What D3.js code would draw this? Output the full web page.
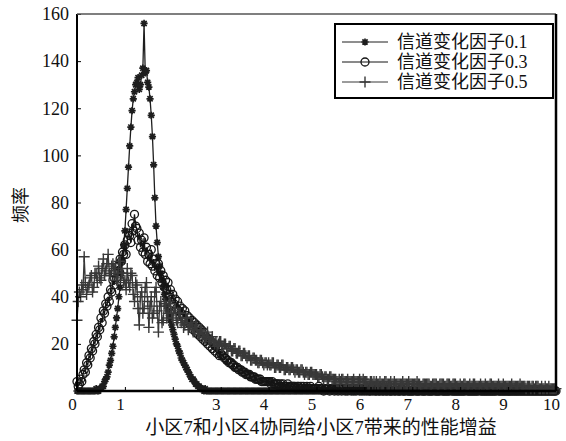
<!DOCTYPE html>
<html><head><meta charset="utf-8">
<script src="https://cdn.jsdelivr.net/npm/d3@7"></script>
<style>body{margin:0;background:#fff}</style>
</head><body>
<svg id="chart" width="566" height="441"></svg>
<script>
// ---------- data ----------
const binWidth = 0.025;          // histogram bin spacing on the gain axis
const xTickValues = [0,1,2,3,4,5,6,7,8,9,10];
const xTickLabels = ["0","1","","3","4","5","6","7","8","9","10"];
const yTickValues = [20,40,60,80,100,120,140,160];
const seriesNames = ["信道变化因子0.1","信道变化因子0.3","信道变化因子0.5"];
const xLabel = "小区7和小区4协同给小区7带来的性能增益";
const yLabel = "频率";

// counts per bin, 40 bins per unit of gain (0.000 .. 10.000)
const factor01 = [
  0,0,0,0,0,0,0,0,0,0, 0,0,0,0,0,0,1,0,0,1, 1,2,2,4,5,6,8,11,13,16, 19,23,27,31,35,40,44,50,55,62,
  68,77,86,95,104,112,119,124,127,130, 131,133,128,130,134,137,156,135,136,131, 129,124,117,108,96,82,70,63,57,53, 50,47,44,41,39,36,34,32,30,28,
  26,24,22,20,19,17,16,14,13,12, 11,10,9,8,7,6,5,5,4,3, 3,2,2,1,1,1,0,1,0,0, 0,0,0,0,0,0,0,0,0,0,
  0,0,0,0,0,0,0,0,0,0, 0,0,0,0,0,0,0,0,0,0, 0,0,0,0,0,0,0,0,0,0, 0,0,0,0,0,0,0,0,0,0,
  0,0,0,0,0,0,0,0,0,0, 0,0,0,0,0,0,0,0,0,0, 0,0,0,0,0,0,0,0,0,0, 0,0,0,0,0,0,0,0,0,0,
  0,0,0,0,0,0,0,0,0,0, 0,0,0,0,0,0,0,0,0,0, 0,0,0,0,0,0,0,0,0,0, 0,0,0,0,0,0,0,0,0,0,
  0,0,0,0,0,0,0,0,0,0, 0,0,0,0,0,0,0,0,0,0, 0,0,0,0,0,0,0,0,0,0, 0,0,0,0,0,0,0,0,0,0,
  0,0,0,0,0,0,0,0,0,0, 0,0,0,0,0,0,0,0,0,0, 0,0,0,0,0,0,0,0,0,0, 0,0,0,0,0,0,0,0,0,0,
  0,0,0,0,0,0,0,0,0,0, 0,0,0,0,0,0,0,0,0,0, 0,0,0,0,0,0,0,0,0,0, 0,0,0,0,0,0,0,0,0,0,
  0,0,0,0,0,0,0,0,0,0, 0,0,0,0,0,0,0,0,0,0, 0,0,0,0,0,0,0,0,0,0, 0,0,0,0,0,0,0,0,0,0,
  0
];
const factor03 = [
  4,2,3,5,4,7,9,8,12,11, 15,14,18,17,21,20,24,23,27,26, 31,29,34,33,37,36,40,38,43,42, 47,45,50,48,53,51,56,55,59,58,
  62,58,64,67,66,63,71,68,75,70, 69,64,67,61,64,59,65,58,61,55, 58,54,60,53,56,51,54,49,54,48, 51,46,49,44,47,43,46,41,43,39,
  41,37,39,35,38,34,36,33,35,31, 34,30,32,29,31,28,30,26,29,25, 28,24,27,23,26,22,25,21,23,20, 22,19,21,18,20,17,19,16,18,15,
  16,15,15,14,14,13,13,12,12,12, 11,11,10,10,10,9,9,9,8,8, 8,7,7,7,7,6,6,6,6,5, 5,5,5,5,4,4,4,4,4,4,
  4,4,3,4,3,3,3,3,3,2, 3,2,3,2,2,2,3,2,2,2, 2,2,2,1,2,2,1,2,1,2, 1,1,2,1,1,2,1,1,1,1,
  1,1,2,1,1,1,0,1,1,1, 1,0,1,1,1,0,1,1,0,1, 1,0,1,1,0,1,0,1,1,0, 1,0,1,0,1,1,0,1,0,1,
  0,1,0,1,0,0,1,0,1,0, 0,1,0,0,1,0,0,1,0,0, 1,0,0,0,1,0,0,1,0,0, 0,1,0,0,0,1,0,0,0,0,
  0,0,1,0,0,0,0,1,0,0, 0,0,1,0,0,0,0,0,1,0, 0,0,0,0,1,0,0,0,0,0, 0,0,1,0,0,0,0,0,0,0,
  0,0,0,0,0,1,0,0,0,0, 0,0,0,0,0,0,1,0,0,0, 0,0,0,0,0,0,0,0,0,0, 0,1,0,0,0,0,0,0,0,0,
  0,0,0,0,0,0,0,0,0,0, 0,0,0,0,0,0,0,0,0,0, 0,0,0,0,0,0,0,0,0,0, 0,0,0,0,0,0,0,0,0,0,
  0
];
const factor05 = [
  30,38,42,40,45,43,57,46,41,44, 45,48,49,42,44,50,50,46,53,48, 47,52,56,49,51,54,58,50,49,53, 54,51,52,47,48,55,55,50,50,46,
  47,43,52,46,44,50,49,41,38,46, 45,35,28,40,42,33,35,44,46,38, 27,36,40,31,33,42,44,34,25,36, 38,29,30,37,36,31,33,38,37,33,
  31,34,35,30,29,33,33,29,30,27, 28,31,31,26,27,29,29,25,26,28, 27,24,24,26,26,23,24,22,23,25, 22,21,22,23,21,20,21,19,20,21,
  21,19,19,20,20,18,18,19,19,17, 17,18,18,16,16,17,17,15,15,16, 16,15,14,15,15,13,13,14,14,13, 13,12,12,13,13,12,11,12,12,11,
  12,11,11,12,12,10,10,11,11,10, 10,11,11,9,9,10,10,9,9,10, 10,9,8,9,9,8,8,9,9,8, 7,8,8,7,7,8,8,7,7,7,
  7,6,6,7,7,6,5,6,6,5, 5,6,6,5,5,5,5,4,4,5, 4,5,5,4,4,4,5,4,4,4, 4,5,4,4,4,4,5,4,4,5,
  4,4,4,3,3,4,4,3,4,3, 4,3,3,4,3,3,3,4,4,3, 3,3,4,3,3,4,3,3,3,3, 3,3,4,3,3,3,3,4,3,3,
  3,3,3,3,4,3,3,2,2,3, 3,3,3,3,3,2,2,3,3,3, 3,2,2,3,3,3,3,2,2,3, 3,3,2,2,3,3,3,2,2,2,
  3,2,2,3,3,2,2,2,3,2, 2,3,3,2,2,2,2,3,2,2, 2,3,2,2,2,3,3,2,2,2, 2,2,3,2,2,2,3,2,2,2,
  2,2,2,3,2,2,2,2,2,2, 3,2,2,2,2,1,2,2,2,1, 2,2,1,2,2,2,1,1,2,1, 1,2,1,1,2,1,1,1,1,1,
  1
];

// ---------- layout ----------
const svg = d3.select("#chart");
const L = 77, R = 556, T = 14, B = 391;
const x = d3.scaleLinear().domain([0,10]).range([L,R]);
const y = d3.scaleLinear().domain([0,160]).range([B,T]);
const serif = "'Liberation Serif','Times New Roman','Noto Sans CJK SC',serif";

svg.append("rect").attr("width",566).attr("height",441).attr("fill","#fff");

const markerPaths = {
  star: "M0,-3.6V3.6M-3.6,0H3.6M-2.6,-2.6L2.6,2.6M-2.6,2.6L2.6,-2.6",
  plus: "M0,-5.5V5.5M-5.5,0H5.5"
};
const styles = [
  {data: factor01, color: "#1e1e1e", marker: "star"},
  {data: factor03, color: "#151515", marker: "circle"},
  {data: factor05, color: "#383838", marker: "plus"}
];

function drawMarker(g, type, color) {
  if (type === "circle") {
    g.append("circle").attr("r",4).attr("fill","none").attr("stroke",color).attr("stroke-width",1.3);
  } else {
    g.append("path").attr("d",markerPaths[type]).attr("fill","none").attr("stroke",color)
      .attr("stroke-width",type==="star"?1.7:1.4);
    if (type === "star") g.append("circle").attr("r",1.9).attr("fill",color);
  }
}

const line = d3.line().x((d,i)=>x(i*binWidth)).y(d=>y(d));

styles.forEach(s => {
  const g = svg.append("g");
  g.append("path").datum(s.data).attr("d",line)
    .attr("fill","none").attr("stroke",s.color).attr("stroke-width",1.3);
  g.selectAll("g.m").data(s.data).enter().append("g")
    .attr("transform",(d,i)=>`translate(${x(i*binWidth)},${y(d)})`)
    .each(function(){ drawMarker(d3.select(this), s.marker, s.color); });
});

// ---------- axes ----------
const xAxis = d3.axisBottom(x).tickValues(xTickValues)
  .tickFormat((d,i)=>xTickLabels[i]).tickSizeInner(-4).tickSizeOuter(0).tickPadding(7);
const gx = svg.append("g").attr("transform",`translate(0,${B})`).call(xAxis);
gx.select(".domain").remove();
gx.selectAll("text").attr("font-family",serif).attr("font-size",17).attr("fill","#111").attr("dx",-5);
gx.selectAll("line").attr("stroke","#000");

const yAxis = d3.axisLeft(y).tickValues(yTickValues)
  .tickSizeInner(-4).tickSizeOuter(0).tickPadding(8);
const gy = svg.append("g").attr("transform",`translate(${L},0)`).call(yAxis);
gy.select(".domain").remove();
gy.selectAll("text").attr("font-family",serif).attr("font-size",18).attr("fill","#111");
gy.selectAll("line").attr("stroke","#000");

// frame
svg.append("line").attr("x1",L).attr("x2",L).attr("y1",T).attr("y2",B).attr("stroke","#000").attr("stroke-width",2);
svg.append("line").attr("x1",L).attr("x2",R).attr("y1",B).attr("y2",B).attr("stroke","#000").attr("stroke-width",2.5);
svg.append("line").attr("x1",L).attr("x2",R).attr("y1",T).attr("y2",T).attr("stroke","#555").attr("stroke-width",1.5);
svg.append("line").attr("x1",R).attr("x2",R).attr("y1",T).attr("y2",B).attr("stroke","#000").attr("stroke-width",2.5);

// labels
svg.append("text").attr("x",321).attr("y",434).attr("text-anchor","middle")
  .attr("font-family",serif).attr("font-size",19).attr("fill","#111").text(xLabel);
svg.append("text").attr("transform","translate(27,205) rotate(-90)").attr("text-anchor","middle")
  .attr("font-family",serif).attr("font-size",18).attr("fill","#111").text(yLabel);

// ---------- legend ----------
const lg = svg.append("g");
lg.append("rect").attr("x",335).attr("y",24).attr("width",218).attr("height",74)
  .attr("fill","#fff").attr("stroke","#000").attr("stroke-width",2);
styles.forEach((s,i) => {
  const yy = 42 + i*20;
  lg.append("line").attr("x1",342).attr("x2",388).attr("y1",yy).attr("y2",yy)
    .attr("stroke",s.color).attr("stroke-width",1);
  const m = lg.append("g").attr("transform",`translate(365,${yy})`);
  drawMarker(m, s.marker, s.color);
  lg.append("text").attr("x",397).attr("y",yy+6).attr("font-family",serif)
    .attr("font-size",18).attr("fill","#111").text(seriesNames[i]);
});
</script>
</body></html>
